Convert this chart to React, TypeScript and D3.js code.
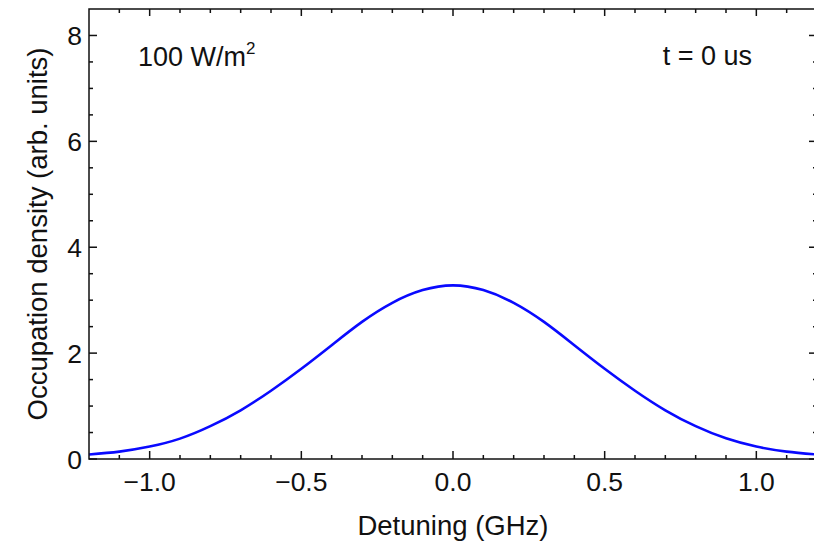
import React from "react";
import * as d3 from "d3";

const detuning = [-1.2, -1.1, -1.0, -0.9, -0.8, -0.7, -0.6, -0.5, -0.4, -0.3, -0.2, -0.1, 0.0, 0.1, 0.2, 0.3, 0.4, 0.5, 0.6, 0.7, 0.8, 0.9, 1.0, 1.1, 1.2];
const density = [0.085, 0.14, 0.235, 0.385, 0.62, 0.92, 1.29, 1.705, 2.15, 2.59, 2.95, 3.19, 3.28, 3.19, 2.95, 2.59, 2.15, 1.705, 1.29, 0.92, 0.62, 0.39, 0.235, 0.14, 0.085];
const xMajorTicks = [-1.0, -0.5, 0.0, 0.5, 1.0];
const xMinorTicks = [-1.1, -0.9, -0.8, -0.7, -0.6, -0.4, -0.3, -0.2, -0.1, 0.1, 0.2, 0.3, 0.4, 0.6, 0.7, 0.8, 0.9, 1.1];
const yMajorTicks = [0, 2, 4, 6, 8];
const yMinorTicks = [0.5, 1, 1.5, 2.5, 3, 3.5, 4.5, 5, 5.5, 6.5, 7, 7.5];
const xTitle = "Detuning (GHz)";
const yTitle = "Occupation density (arb. units)";

export default function App() {
  const W = 814, H = 543;
  const left = 89, right = 817, top = 9, bottom = 459;
  const x = d3.scaleLinear().domain([-1.2, 1.2]).range([left, right]);
  const y = d3.scaleLinear().domain([0, 8.5]).range([bottom, top]);
  const pts: [number, number][] = detuning.map((d, i) => [d, density[i]]);
  const line = d3.line<[number, number]>().x(d => x(d[0])).y(d => y(d[1])).curve(d3.curveNatural);
  const font = "Liberation Sans, Arial, Helvetica, sans-serif";
  const fmt = (v: number) => (v < 0 ? "\u2212" : "") + Math.abs(v).toFixed(1);
  const sw = 1.5;
  return (
    <svg width={W} height={H} style={{ position: "absolute", left: 0, top: 0, background: "#fff" }} fontFamily={font}>
      <rect x={0} y={0} width={W} height={H} fill="#fff" />
      <path d={line(pts) || ""} fill="none" stroke="#0a0aff" strokeWidth={2.6} />
      <rect x={left} y={top} width={right - left} height={bottom - top} fill="none" stroke="#111" strokeWidth={sw} />
      {xMajorTicks.map(t => (
        <g key={"xM" + t}>
          <line x1={x(t)} x2={x(t)} y1={bottom} y2={bottom - 8} stroke="#111" strokeWidth={sw} />
          <line x1={x(t)} x2={x(t)} y1={top} y2={top + 7} stroke="#111" strokeWidth={sw} />
          <text x={x(t)} y={491} fontSize={26.5} textAnchor="middle" fill="#111">{fmt(t)}</text>
        </g>
      ))}
      {xMinorTicks.map(t => (
        <g key={"xm" + t}>
          <line x1={x(t)} x2={x(t)} y1={bottom} y2={bottom - 4} stroke="#111" strokeWidth={sw} />
          <line x1={x(t)} x2={x(t)} y1={top} y2={top + 4} stroke="#111" strokeWidth={sw} />
        </g>
      ))}
      {yMajorTicks.map(t => (
        <g key={"yM" + t}>
          <line x1={left} x2={left + 8} y1={y(t)} y2={y(t)} stroke="#111" strokeWidth={sw} />
          <line x1={right} x2={right - 8} y1={y(t)} y2={y(t)} stroke="#111" strokeWidth={sw} />
          <text x={82} y={y(t)} dy="0.36em" fontSize={26.5} textAnchor="end" fill="#111">{t}</text>
        </g>
      ))}
      {yMinorTicks.map(t => (
        <g key={"ym" + t}>
          <line x1={left} x2={left + 4} y1={y(t)} y2={y(t)} stroke="#111" strokeWidth={sw} />
          <line x1={right} x2={right - 4} y1={y(t)} y2={y(t)} stroke="#111" strokeWidth={sw} />
        </g>
      ))}
      <text x={453} y={535} fontSize={27.5} textAnchor="middle" fill="#111">{xTitle}</text>
      <text transform={`translate(47,${(top + bottom) / 2}) rotate(-90)`} fontSize={27.5} textAnchor="middle" fill="#111">{yTitle}</text>
      <text x={138} y={66} fontSize={27} fill="#111">100 W/m<tspan dy={-12} fontSize={17}>2</tspan></text>
      <text x={752} y={65} fontSize={27} textAnchor="end" fill="#111">t = 0 us</text>
    </svg>
  );
}
